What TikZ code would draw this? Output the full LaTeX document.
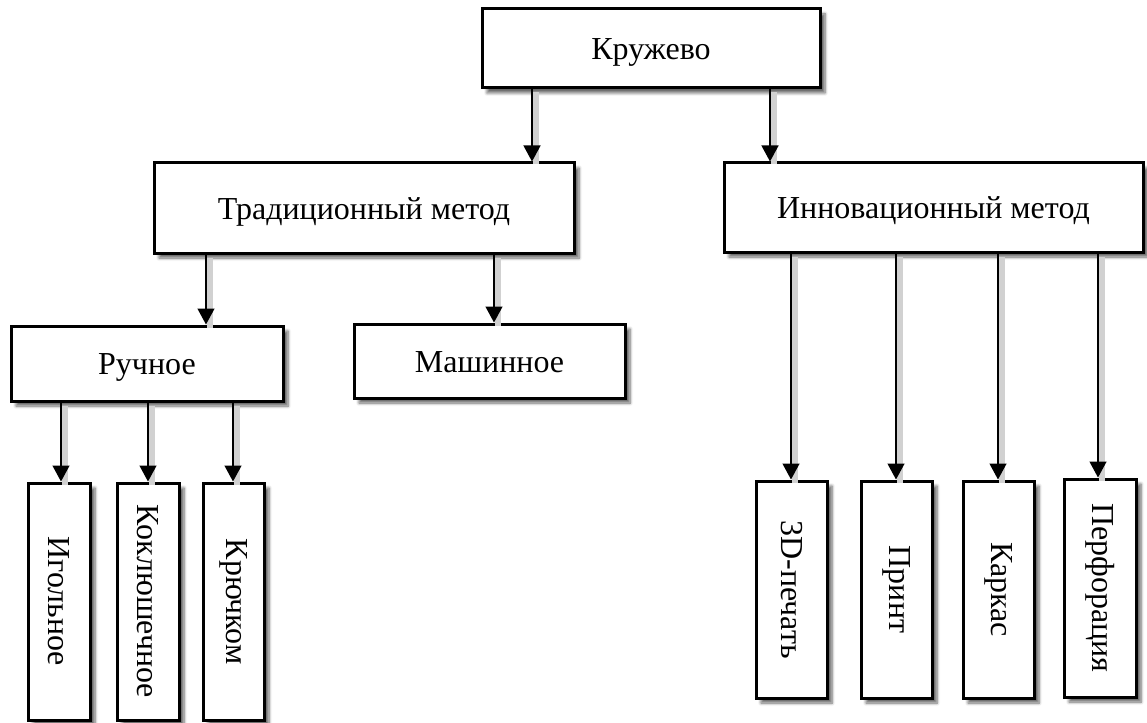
\documentclass[tikz,border=0pt]{standalone}
\usepackage{fontspec}
\usepackage{graphicx}
\setmainfont{Liberation Serif}
\usetikzlibrary{arrows.meta,shadows.blur}
\tikzset{
  box/.style={draw, line width=3pt, fill=white, inner sep=0pt,
    font=\fontsize{32}{38}\selectfont,
    blur shadow={shadow xshift=5pt, shadow yshift=-5pt, shadow blur steps=6,
      shadow blur radius=3pt, shadow opacity=60}},
  hbox/.style={box, text height=26pt, text depth=4pt},
  conn/.style={line width=1.3pt, -{Triangle[width=17pt,length=16pt]},
    preaction={draw=black!18, line width=6pt, -, transform canvas={shift={(4pt,-3pt)}}}}
}
\begin{document}
\begin{tikzpicture}[x=1pt,y=-1pt]
\useasboundingbox (0,0) rectangle (1147,722);
% level 0
\node[hbox, minimum width=338pt, minimum height=79pt] (kr) at (651,48.5) {Кружево};
% level 1
\node[hbox, minimum width=420pt, minimum height=90pt] (tr) at (364,208) {Традиционный метод};
\node[hbox, minimum width=419pt, minimum height=89pt] (in) at (933.5,207.5) {Инновационный метод};
% level 2
\node[hbox, minimum width=272pt, minimum height=75pt] (ru) at (147,363.5) {Ручное};
\node[hbox, minimum width=271pt, minimum height=74pt] (ma) at (489.5,361) {Машинное};
% level 3 left
\node[box, minimum width=62pt, minimum height=237pt] (ig) at (59,601.5) {\rotatebox{-90}{Игольное}};
\node[box, minimum width=62pt, minimum height=237pt] (ko) at (148,601.5) {\rotatebox{-90}{Коклюшечное}};
\node[box, minimum width=61pt, minimum height=237pt] (kj) at (233.5,601.5) {\rotatebox{-90}{Крючком}};
% level 3 right
\node[box, minimum width=71pt, minimum height=217pt] (pe) at (791.5,589.5) {\rotatebox{-90}{3D-печать}};
\node[box, minimum width=71pt, minimum height=217pt] (pr) at (896.5,589.5) {\rotatebox{-90}{Принт}};
\node[box, minimum width=71pt, minimum height=217pt] (ka) at (998.5,589.5) {\rotatebox{-90}{Каркас}};
\node[box, minimum width=72pt, minimum height=218pt] (pf) at (1100,588) {\rotatebox{-90}{Перфорация}};
% connectors
\draw[conn] (kr.south -| 532,0) -- (tr.north -| 532,0);
\draw[conn] (kr.south -| 770,0) -- (in.north -| 770,0);
\draw[conn] (tr.south -| 206,0) -- (ru.north -| 206,0);
\draw[conn] (tr.south -| 494,0) -- (ma.north -| 494,0);
\draw[conn] (ru.south -| 61,0) -- (ig.north -| 61,0);
\draw[conn] (ru.south -| 148,0) -- (ko.north -| 148,0);
\draw[conn] (ru.south -| 233,0) -- (kj.north -| 233,0);
\draw[conn] (in.south -| 791,0) -- (pe.north -| 791,0);
\draw[conn] (in.south -| 896,0) -- (pr.north -| 896,0);
\draw[conn] (in.south -| 998,0) -- (ka.north -| 998,0);
\draw[conn] (in.south -| 1098,0) -- (pf.north -| 1098,0);
\end{tikzpicture}
\end{document}
